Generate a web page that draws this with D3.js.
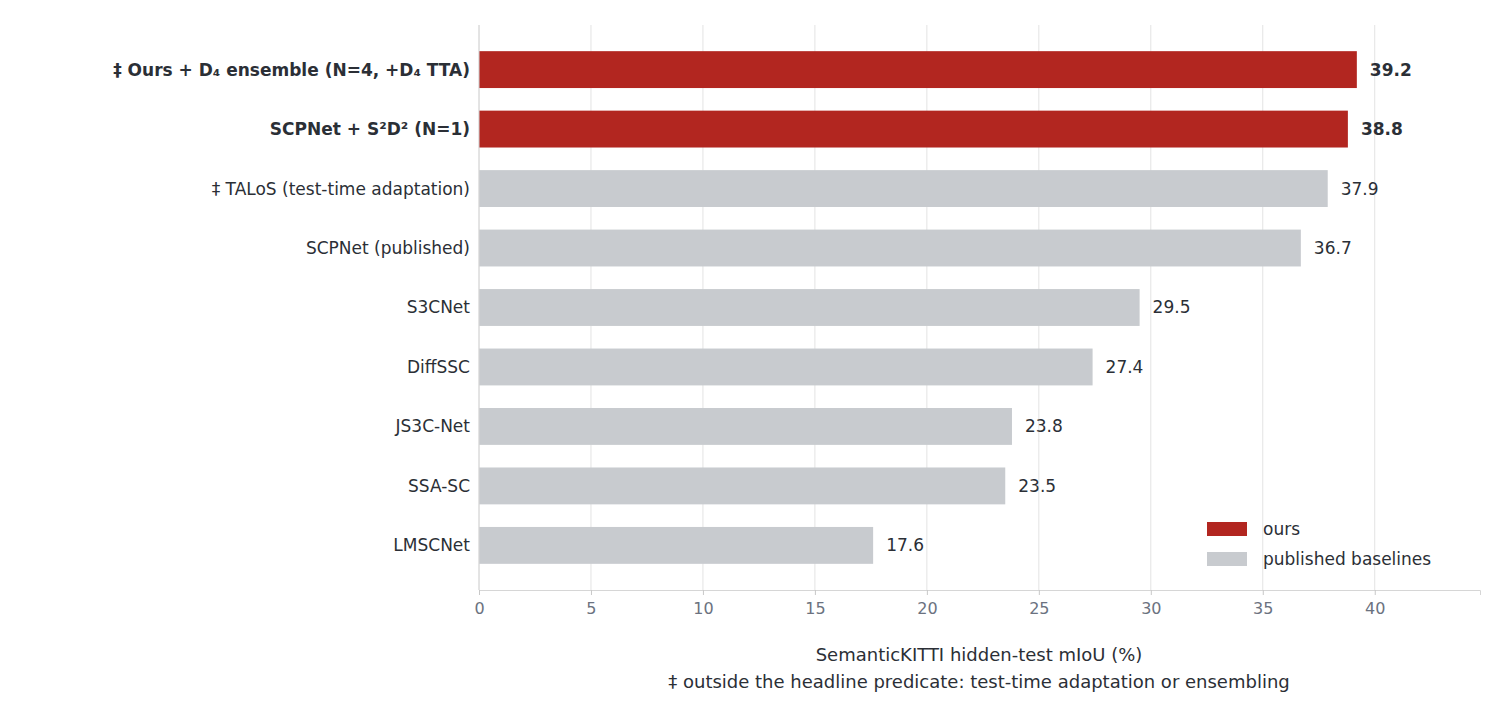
<!DOCTYPE html>
<html lang="en">
<head>
<meta charset="utf-8">
<script src="https://cdn.jsdelivr.net/npm/d3@7"></script>
<style>body{margin:0;background:#fff}text{font-family:"DejaVu Sans",sans-serif}</style>
</head>
<body>
<script>
var labels = ["‡ Ours + D₄ ensemble  (N=4, +D₄ TTA)", "SCPNet + S²D² (N=1)", "‡ TALoS  (test-time adaptation)", "SCPNet (published)", "S3CNet", "DiffSSC", "JS3C-Net", "SSA-SC", "LMSCNet"];
var values = [39.2, 38.8, 37.9, 36.7, 29.5, 27.4, 23.8, 23.5, 17.6];
var ours = [true, true, false, false, false, false, false, false, false];
var xTicks = [0, 5, 10, 15, 20, 25, 30, 35, 40];
var legendItems = ["ours", "published baselines"];

var w = 1504, h = 720;
var svg = d3.select("body").append("svg").attr("width", w).attr("height", h);
var x = d3.scaleLinear().domain([0, 44.7]).range([479, 1480]);
var y = d3.scaleBand().domain(labels).range([25, 590]).paddingInner(0.38).paddingOuter(0.44);
var red = "#b22620", grey = "#c8cbcf";

svg.append("g").selectAll("line").data(xTicks).enter().append("line")
    .attr("x1", d => x(d)).attr("x2", d => x(d)).attr("y1", 25).attr("y2", 590)
    .attr("stroke", "#e3e3e3").attr("stroke-width", 1);

svg.selectAll("rect.bar").data(values).enter().append("rect")
    .attr("x", x(0)).attr("y", (d, i) => y(labels[i]))
    .attr("width", d => x(d) - x(0)).attr("height", y.bandwidth())
    .attr("fill", (d, i) => ours[i] ? red : grey);

svg.selectAll("text.val").data(values).enter().append("text")
    .attr("x", d => x(d) + 13).attr("y", (d, i) => y(labels[i]) + y.bandwidth() / 2)
    .attr("dy", "0.35em").attr("font-size", 17).attr("fill", "#2b2f36")
    .attr("font-weight", (d, i) => ours[i] ? "bold" : "normal")
    .text(d => d.toFixed(1));

svg.selectAll("text.lab").data(labels).enter().append("text")
    .attr("x", 470).attr("y", d => y(d) + y.bandwidth() / 2)
    .attr("dy", "0.35em").attr("text-anchor", "end").attr("font-size", 17).attr("fill", "#2b2f36")
    .attr("font-weight", (d, i) => ours[i] ? "bold" : "normal")
    .text(d => d);

var xa = svg.append("g").attr("transform", "translate(0,590)")
    .call(d3.axisBottom(x).tickValues(xTicks).tickSize(5).tickPadding(8));
xa.select(".domain").attr("stroke", "#d6d6d6");
xa.selectAll(".tick line").attr("stroke", "#c8c8c8");
xa.selectAll(".tick text").attr("font-size", 16).attr("fill", "#6b7280").attr("font-family", "DejaVu Sans");
svg.append("line").attr("x1", 479).attr("x2", 479).attr("y1", 25).attr("y2", 590).attr("stroke", "#d6d6d6");

svg.append("text").attr("x", 979).attr("y", 661).attr("text-anchor", "middle")
    .attr("font-size", 18).attr("fill", "#2b2f36").text("SemanticKITTI hidden-test mIoU (%)");
svg.append("text").attr("x", 979).attr("y", 688).attr("text-anchor", "middle")
    .attr("font-size", 18).attr("fill", "#2b2f36").text("‡ outside the headline predicate: test-time adaptation or ensembling");

var lg = svg.append("g").selectAll("g").data(legendItems).enter().append("g")
    .attr("transform", (d, i) => "translate(1207," + (522 + i * 30) + ")");
lg.append("rect").attr("width", 40).attr("height", 14).attr("fill", (d, i) => i ? grey : red);
lg.append("text").attr("x", 56).attr("y", 7).attr("dy", "0.35em").attr("font-size", 17)
    .attr("fill", "#2b2f36").text(d => d);
</script>
</body>
</html>
